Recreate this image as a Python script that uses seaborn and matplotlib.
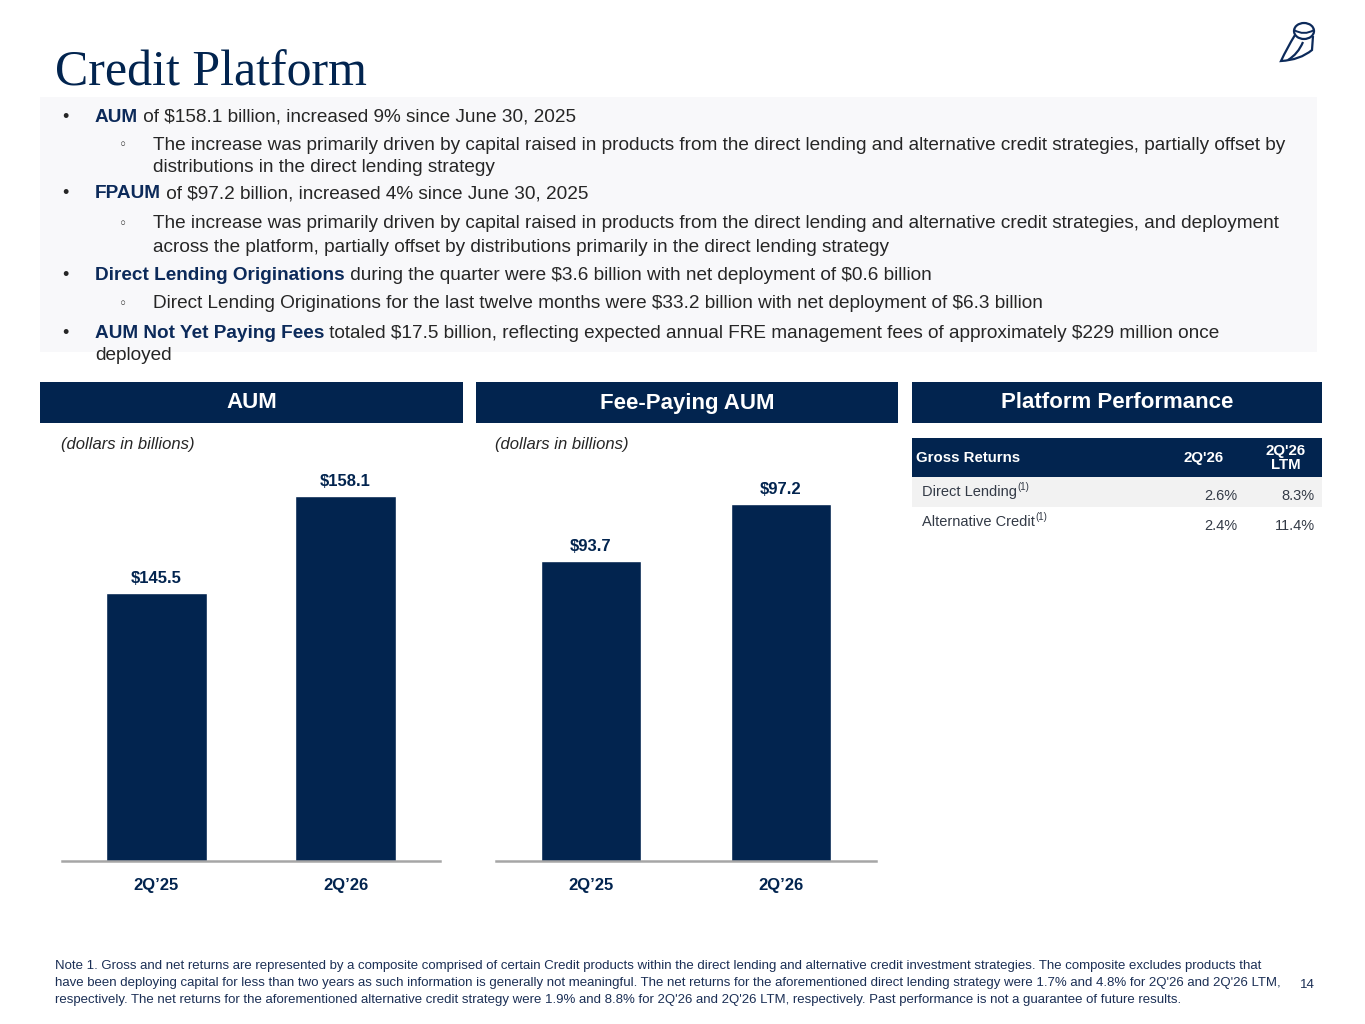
import matplotlib
matplotlib.use("Agg")
import matplotlib.pyplot as plt
import seaborn as sns
import pandas as pd
from matplotlib.patches import Rectangle, Ellipse, PathPatch
from matplotlib.path import Path

# ---------------- data ----------------
periods = ["2Q’25", "2Q’26"]
aum_values = [145.5, 158.1]
fpaum_values = [93.7, 97.2]

table_header = ["Gross Returns", "2Q'26", "2Q'26\nLTM"]
strategies = ["Direct Lending", "Alternative Credit"]
returns_quarter = [2.6, 2.4]
returns_ltm = [8.3, 11.4]

title_text = "Credit Platform"
panel_titles = ["AUM", "Fee-Paying AUM", "Platform Performance"]
unit_note = "(dollars in billions)"

bullet_lines = [
    ("•", [("AUM", True), (" of $158.1 billion, increased 9% since June 30, 2025", False)]),
    ("◦", [("The increase was primarily driven by capital raised in products from the direct lending and alternative credit strategies, partially offset by", False)]),
    ("", [("distributions in the direct lending strategy", False)]),
    ("•", [("FPAUM", True), (" of $97.2 billion, increased 4% since June 30, 2025", False)]),
    ("◦", [("The increase was primarily driven by capital raised in products from the direct lending and alternative credit strategies, and deployment", False)]),
    ("", [("across the platform, partially offset by distributions primarily in the direct lending strategy", False)]),
    ("•", [("Direct Lending Originations", True), (" during the quarter were $3.6 billion with net deployment of $0.6 billion", False)]),
    ("◦", [("Direct Lending Originations for the last twelve months were $33.2 billion with net deployment of $6.3 billion", False)]),
    ("•", [("AUM Not Yet Paying Fees", True), (" totaled $17.5 billion, reflecting expected annual FRE management fees of approximately $229 million once", False)]),
    ("", [("deployed", False)]),
]
note_lines = [
    "Note 1. Gross and net returns are represented by a composite comprised of certain Credit products within the direct lending and alternative credit investment strategies. The composite excludes products that",
    "have been deploying capital for less than two years as such information is generally not meaningful. The net returns for the aforementioned direct lending strategy were 1.7% and 4.8% for 2Q'26 and 2Q'26 LTM,",
    "respectively. The net returns for the aforementioned alternative credit strategy were 1.9% and 8.8% for 2Q'26 and 2Q'26 LTM, respectively. Past performance is not a guarantee of future results.",
]
page_number = "14"

# ---------------- style ----------------
sns.set_theme(style="white")
plt.rcParams["font.family"] = ["Liberation Sans", "DejaVu Sans"]
plt.rcParams["text.parse_math"] = False

NAVY = "#02244F"
BOLD_TXT = "#0C2A5A"
BODY_TXT = "#262626"
GRAY_TXT = "#333A46"
NOTE_TXT = "#1B2F55"

W, H = 1365, 1024
fig = plt.figure(figsize=(13.65, 10.24), dpi=100)
fig.patch.set_facecolor("white")
renderer = fig.canvas.get_renderer()


def X(px):
    return px / W


def Y(py):
    return 1 - py / H


def rect(x0, y0, x1, y1, color):
    fig.add_artist(Rectangle((X(x0), Y(y1)), (x1 - x0) / W, (y1 - y0) / H,
                             transform=fig.transFigure, facecolor=color,
                             edgecolor="none", zorder=0))


def text_runs(x, y, parts, size, va="center"):
    cur = x
    for txt, bold in parts:
        t = fig.text(X(cur), Y(y), txt, fontsize=size, va=va, ha="left",
                     fontweight="bold" if bold else "normal",
                     color=BOLD_TXT if bold else BODY_TXT)
        bb = t.get_window_extent(renderer=renderer)
        cur += bb.width
    return cur


# ---------------- title + logo ----------------
fig.text(X(55), Y(86), title_text, fontsize=36, family="Liberation Serif",
         color=NAVY, ha="left", va="baseline")

# simple owl outline logo
owl_c = "#0C2A5A"
fig.add_artist(Ellipse((X(1304), Y(31)), 20 / W, 16 / H, transform=fig.transFigure,
                       fill=False, edgecolor=owl_c, lw=1.6))
body = Path([(X(1295), Y(35)), (X(1287), Y(48)), (X(1281), Y(61)),
             (X(1300), Y(60)), (X(1312), Y(50)), (X(1313), Y(36))],
            [Path.MOVETO, Path.CURVE3, Path.CURVE3, Path.CURVE3, Path.CURVE3, Path.LINETO])
fig.add_artist(PathPatch(body, transform=fig.transFigure, fill=False, edgecolor=owl_c, lw=1.6))
wing = Path([(X(1303), Y(42)), (X(1298), Y(54)), (X(1288), Y(60))],
            [Path.MOVETO, Path.CURVE3, Path.CURVE3])
fig.add_artist(PathPatch(wing, transform=fig.transFigure, fill=False, edgecolor=owl_c, lw=1.6))
brow = Path([(X(1294), Y(30)), (X(1304), Y(36)), (X(1314), Y(30))],
            [Path.MOVETO, Path.CURVE3, Path.CURVE3])
fig.add_artist(PathPatch(brow, transform=fig.transFigure, fill=False, edgecolor=owl_c, lw=1.4))

# ---------------- bullet box ----------------
rect(40, 97, 1317, 352, "#F8F8FA")
line_y = [117, 145, 168, 194, 224, 247, 276, 304, 333, 356]
sub_cont = {168, 247}
for (marker, parts), y in zip(bullet_lines, line_y):
    sub = marker == "◦" or (marker == "" and y in sub_cont)
    if marker == "•":
        fig.text(X(62), Y(y), "•", fontsize=13, color=BODY_TXT, ha="left", va="center")
    elif marker == "◦":
        fig.text(X(119), Y(y), "◦", fontsize=10, color=BODY_TXT, ha="left", va="center",
                 family="DejaVu Sans")
    x0 = 153 if sub else 95
    text_runs(x0, y, parts, 13.65)

# ---------------- panel headers ----------------
headers_x = [(40, 463), (476, 898), (912, 1322)]
for (x0, x1), ttl in zip(headers_x, panel_titles):
    rect(x0, 382, x1, 423, NAVY)
    fig.text(X((x0 + x1) / 2), Y(403), ttl, fontsize=16, fontweight="bold",
             color="white", ha="center", va="center")

fig.text(X(61), Y(444), unit_note, fontsize=12, style="italic", color=BODY_TXT,
         ha="left", va="center")
fig.text(X(495), Y(444), unit_note, fontsize=12, style="italic", color=BODY_TXT,
         ha="left", va="center")

# ---------------- bar charts ----------------
def bar_panel(x0, x1, values, ylim):
    ax = fig.add_axes([X(x0), Y(861), (x1 - x0) / W, (861 - 470) / H])
    df = pd.DataFrame({"period": periods, "value": values})
    sns.barplot(data=df, x="period", y="value", color=NAVY, saturation=1,
                width=0.53, ax=ax)
    ax.set_xlim(-0.5, 1.5)
    ax.set_ylim(*ylim)
    ax.bar_label(ax.containers[0], labels=[f"${v:.1f}" for v in values],
                 padding=5, fontsize=12, fontweight="bold", color=NAVY)
    ax.set_yticks([])
    ax.set_xlabel("")
    ax.set_ylabel("")
    ax.tick_params(axis="x", length=0, pad=12, labelsize=12, labelcolor=NAVY)
    for lbl in ax.get_xticklabels():
        lbl.set_fontweight("bold")
    for s in ["top", "left", "right"]:
        ax.spines[s].set_visible(False)
    ax.spines["bottom"].set_color("#A6A6A6")
    ax.spines["bottom"].set_linewidth(1.8)
    ax.set_facecolor("none")
    return ax


bar_panel(62, 440, aum_values, (110.7, 161.5))
bar_panel(496, 876, fpaum_values, (75.3, 99.3))

# ---------------- performance table ----------------
rect(912, 438, 1322, 477, NAVY)
rect(912, 477, 1322, 507, "#F2F2F2")
fig.text(X(916), Y(458), table_header[0], fontsize=10.8, fontweight="bold",
         color="white", ha="left", va="center")
fig.text(X(1204), Y(458), table_header[1], fontsize=10.8, fontweight="bold",
         color="white", ha="center", va="center")
fig.text(X(1286), Y(458), table_header[2], fontsize=10.8, fontweight="bold",
         color="white", ha="center", va="center", linespacing=0.95)

row_y = [492, 522]
for name, q, ltm, y in zip(strategies, returns_quarter, returns_ltm, row_y):
    t = fig.text(X(922), Y(y), name, fontsize=10.5, color=GRAY_TXT, ha="left", va="center")
    bb = t.get_window_extent(renderer=renderer)
    fig.text(X(922) + bb.width / W, Y(y - 5), "(1)", fontsize=7, color=GRAY_TXT,
             ha="left", va="center")
    fig.text(X(1237), Y(y + 4), f"{q:.1f}%", fontsize=10.5, color=GRAY_TXT,
             ha="right", va="center")
    fig.text(X(1315), Y(y + 4), f"{ltm:.1f}%", fontsize=10.5, color=GRAY_TXT,
             ha="right", va="center")

# ---------------- footnote ----------------
for ln, y in zip(note_lines, [966, 983, 1000]):
    fig.text(X(55), Y(y), ln, fontsize=9.5, color=NOTE_TXT, ha="left", va="center")
fig.text(X(1307), Y(985), page_number, fontsize=9.5, color=NOTE_TXT, ha="center", va="center")

fig.savefig("out.png", dpi=100, facecolor="white")
